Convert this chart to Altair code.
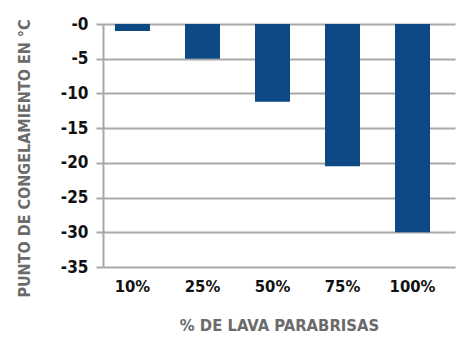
import altair as alt
import pandas as pd

categories = ["10%", "25%", "50%", "75%", "100%"]
values = [-1, -5, -11.2, -20.5, -30]
y_ticks = [0, -5, -10, -15, -20, -25, -30, -35]

df = pd.DataFrame({"cat": categories, "val": values})

FONT = "DejaVu Sans Condensed"
GRID = "#a8a8a8"

chart = alt.Chart(df).mark_bar(color="#0d4a85").encode(
    x=alt.X("cat:N", sort=categories,
            scale=alt.Scale(paddingInner=0.5, paddingOuter=0.264, align=0.324),
            axis=alt.Axis(title="% DE LAVA PARABRISAS", labelAngle=0,
                          labelFont=FONT, labelFontSize=16.5, labelFontWeight="bold",
                          labelColor="#111111", labelPadding=11,
                          titleFont=FONT, titleFontSize=16.5, titleFontWeight="bold",
                          titleColor="#6b6b6b", titlePadding=23,
                          ticks=False, domain=False)),
    y=alt.Y("val:Q",
            scale=alt.Scale(domain=[-35, 0], nice=False, zero=False),
            axis=alt.Axis(title="PUNTO DE CONGELAMIENTO EN °C", values=y_ticks,
                          labelExpr="'-' + abs(datum.value)",
                          labelFont=FONT, labelFontSize=17, labelFontWeight="bold",
                          labelColor="#111111", labelPadding=8,
                          tickSize=7, tickColor=GRID, tickWidth=2,
                          domainColor=GRID, domainWidth=2,
                          gridColor=GRID, gridWidth=2,
                          titleFont=FONT, titleFontSize=16, titleFontWeight="bold",
                          titleColor="#6b6b6b", titleX=-79, titleY=134,
                          titleBaseline="middle")),
).properties(
    width=352, height=243,
    autosize=alt.AutoSizeParams(type="none"),
    padding={"left": 95, "top": 16, "right": 11, "bottom": 84},
).configure_view(stroke=None)

chart.save("out.html", embed_options={"renderer": "svg", "actions": False})
